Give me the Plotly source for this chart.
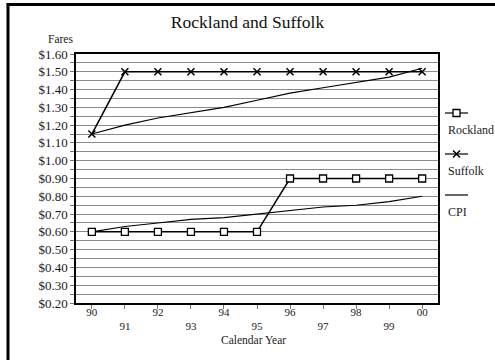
import plotly.graph_objects as go

years = ["90", "91", "92", "93", "94", "95", "96", "97", "98", "99", "00"]
rockland = [0.60, 0.60, 0.60, 0.60, 0.60, 0.60, 0.90, 0.90, 0.90, 0.90, 0.90]
suffolk = [1.15, 1.50, 1.50, 1.50, 1.50, 1.50, 1.50, 1.50, 1.50, 1.50, 1.50]
cpi_suffolk = [1.15, 1.20, 1.24, 1.27, 1.30, 1.34, 1.38, 1.41, 1.44, 1.47, 1.52]
cpi_rockland = [0.60, 0.63, 0.65, 0.67, 0.68, 0.70, 0.72, 0.74, 0.75, 0.77, 0.80]
y_ticks = [0.20, 0.30, 0.40, 0.50, 0.60, 0.70, 0.80, 0.90, 1.00, 1.10, 1.20, 1.30, 1.40, 1.50, 1.60]
y_labels = ["$%.2f" % v for v in y_ticks]
x_labels = [y if i % 2 == 0 else "<br>" + y for i, y in enumerate(years)]
legend_names = ["Rockland", "Suffolk", "CPI"]

FONT = "Liberation Serif, Times New Roman, serif"
TXT = "#1a1a1a"

fig = go.Figure()

fig.add_trace(go.Scatter(x=years, y=cpi_suffolk, mode="lines",
                         line=dict(color="black", width=1.1), showlegend=False))
fig.add_trace(go.Scatter(x=years, y=cpi_rockland, mode="lines",
                         line=dict(color="black", width=1.1), showlegend=False))
fig.add_trace(go.Scatter(x=years, y=rockland, mode="lines+markers",
                         line=dict(color="black", width=1.5),
                         marker=dict(symbol="square", size=7, color="white",
                                     line=dict(color="black", width=1.3)),
                         showlegend=False))
fig.add_trace(go.Scatter(x=years, y=suffolk, mode="lines+markers",
                         line=dict(color="black", width=1.5),
                         marker=dict(symbol="x-thin-open", size=7, color="black",
                                     line=dict(color="black", width=1.5)),
                         showlegend=False))

# Legend keys (symbol above text), drawn on a hidden helper axis in pixel-like units
leg_y = [113, 154, 195]
leg_sym = [dict(symbol="square", size=7, color="white", line=dict(color="black", width=1.3)),
           dict(symbol="x-thin-open", size=7, color="black", line=dict(color="black", width=1.5)),
           None]
for name, yy, m in zip(legend_names, leg_y, leg_sym):
    fig.add_trace(go.Scatter(x=[445, 468], y=[yy, yy], mode="lines",
                             line=dict(color="black", width=1.2),
                             xaxis="x2", yaxis="y2", showlegend=False))
    if m is not None:
        fig.add_trace(go.Scatter(x=[456.5], y=[yy], mode="markers", marker=m,
                                 xaxis="x2", yaxis="y2", showlegend=False))
    fig.add_annotation(x=446, y=yy + 17, xref="x2", yref="y2", text=name,
                       showarrow=False, xanchor="left", yanchor="middle",
                       font=dict(family=FONT, size=12, color=TXT))

W, H = 495, 360
L, T, B = 76, 54, 57
plot_right = 438
PW, PH = W - L, H - T - B
dom_main = (plot_right - L) / PW

fig.update_layout(
    width=W, height=H,
    margin=dict(l=L, r=0, t=T, b=B),
    paper_bgcolor="white", plot_bgcolor="white",
    title=dict(text="Rockland and Suffolk", x=0.5, xref="container", xanchor="center",
               y=1 - 22 / H, yref="container", yanchor="middle",
               font=dict(family=FONT, size=17.5, color="#111111")),
    xaxis=dict(domain=[0, dom_main], type="category", range=[-0.48, 10.48],
               tickmode="array", tickvals=years, ticktext=x_labels,
               ticks="outside", ticklen=4, tickcolor="#777777", tickwidth=1,
               ticklabelstandoff=-6,
               showgrid=False, showline=True, linecolor="black", linewidth=1.5,
               mirror=True, zeroline=False,
               tickfont=dict(family=FONT, size=11, color=TXT)),
    yaxis=dict(range=[0.20, 1.60], tickmode="array", tickvals=y_ticks, ticktext=y_labels,
               ticks="outside", ticklen=4, tickcolor="#777777", tickwidth=1,
               showgrid=True, gridcolor="#8a8a8a", gridwidth=1,
               minor=dict(dtick=0.05, tick0=0.2, showgrid=True, gridcolor="#8a8a8a",
                          gridwidth=1, ticks="outside", ticklen=4, tickcolor="#777777"),
               showline=True, linecolor="black", linewidth=1.5, mirror=True,
               zeroline=False,
               tickfont=dict(family=FONT, size=13, color=TXT)),
    xaxis2=dict(domain=[(445 - L) / PW, 1], range=[445, 495], visible=False,
                anchor="y2", fixedrange=True),
    yaxis2=dict(domain=[0, 1], range=[303, 54], visible=False, anchor="x2",
                fixedrange=True),
    shapes=[
        dict(type="line", xref="paper", yref="paper", x0=(8 - L) / PW,
             x1=(8 - L) / PW, y0=-B / PH, y1=1 + (T - 4.5) / PH,
             line=dict(color="black", width=3)),
        dict(type="line", xref="paper", yref="paper", x0=(6.5 - L) / PW, x1=1,
             y0=1 + (T - 4.5) / PH, y1=1 + (T - 4.5) / PH,
             line=dict(color="black", width=3)),
    ],
    annotations=list(fig.layout.annotations) + [
        dict(text="Fares", x=(60 - L) / PW, y=(303 - 39) / PH,
             xref="paper", yref="paper", showarrow=False, xanchor="center", yanchor="middle",
             font=dict(family=FONT, size=11.5, color=TXT)),
        dict(text="Calendar Year", x=(253.5 - L) / PW, y=-(340 - 303) / PH,
             xref="paper", yref="paper", showarrow=False, xanchor="center", yanchor="middle",
             font=dict(family=FONT, size=11.5, color=TXT)),
    ],
)

fig.write_html("out.html")
